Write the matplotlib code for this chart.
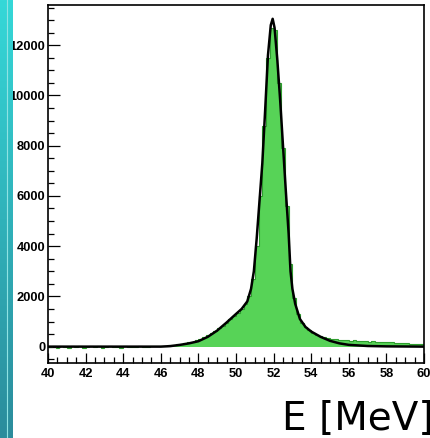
import numpy as np
import matplotlib.pyplot as plt
from matplotlib.ticker import MultipleLocator
from matplotlib.colors import LinearSegmentedColormap

# histogram: 0.2 MeV bins from 40 to 60
bin_edges = np.round(np.arange(40.0, 60.01, 0.2), 2)
counts = [
    -30, 10, -50, 20, 0, -40, 30, -20, 10, -60,
    0, 20, -30, 10, -50, 0, 30, -20, 0, -40,
    20, -10, 0, -30, 10, 0, -20, 30, 10, 40,
    30, 40, 50, 60, 90, 110, 140, 170, 200, 250,
    310, 370, 450, 540, 640, 730, 840, 960, 1080, 1200,
    1330, 1480, 1680, 2000, 2700, 4000, 6000, 8800, 11500, 12700,
    12600, 10500, 7900, 5600, 3300, 1950, 1300, 950, 800, 680,
    560, 480, 420, 370, 340, 310, 290, 280, 260, 250,
    240, 250, 225, 230, 205, 200, 210, 185, 180, 175,
    165, 175, 150, 140, 145, 125, 120, 115, 105, 95,
]

# fit curve
fit_e = [40.0, 44.0, 46.0, 46.5, 47.0, 47.5, 48.0, 48.5, 49.0, 49.5,
         50.0, 50.3, 50.6, 50.8, 50.95, 51.1, 51.25, 51.4, 51.55, 51.7,
         51.85, 51.95, 52.05, 52.2, 52.35, 52.5, 52.65, 52.8, 52.9, 53.0,
         53.15, 53.4, 53.7, 54.0, 54.5, 55.0, 55.5, 56.0, 57.0, 58.0, 60.0]
fit_v = [0, 0, 0, 20, 68, 130, 215, 390, 640, 960,
         1300, 1500, 1800, 2300, 3000, 4300, 5800, 7300, 9400, 11600,
         12800, 13050, 12700, 11400, 9800, 8000, 6200, 4500, 3000, 2300,
         1700, 1100, 780, 600, 390, 230, 130, 70, 25, 10, 0]

fig = plt.figure(figsize=(4.30, 4.38), dpi=100)
ax = fig.add_axes([48/430, 75.3/438, 376/430, 357.7/438])

ax.stairs(counts, bin_edges, fill=True, color='#57d357', zorder=1)
ax.stairs(counts, bin_edges, color='#2e9e2e', lw=0.8, zorder=2)
ax.plot(fit_e, fit_v, color='black', lw=1.8, zorder=3)

ax.set_xlim(40, 60)
ax.set_ylim(-640, 13600)
ax.xaxis.set_major_locator(MultipleLocator(2))
ax.xaxis.set_minor_locator(MultipleLocator(0.5))
ax.yaxis.set_major_locator(MultipleLocator(2000))
ax.yaxis.set_minor_locator(MultipleLocator(500))
ax.tick_params(which='both', direction='in', top=False, right=False, width=0.9)
ax.tick_params(axis='y', which='major', length=8.5, pad=2)
ax.tick_params(axis='y', which='minor', length=4.3)
ax.tick_params(axis='x', which='major', length=7.5, pad=3.5)
ax.tick_params(axis='x', which='minor', length=4)
for lab in ax.get_xticklabels() + ax.get_yticklabels():
    lab.set_fontfamily('Liberation Sans')
    lab.set_fontweight('bold')
    lab.set_fontsize(9.3)
for s in ax.spines.values():
    s.set_linewidth(1.2)

fig.text(282/430, 8/438, 'E [MeV]', fontsize=28, family='DejaVu Sans',
         ha='left', va='baseline')

# teal strip at the left edge
bar = fig.add_axes([0, 0, 13/430, 1])
grad = np.linspace(0, 1, 256)[:, None]
cmap = LinearSegmentedColormap.from_list('teal', ['#35d8d8', '#2b8c9c'])
bar.imshow(grad, aspect='auto', cmap=cmap, extent=[0, 1, 0, 1], origin='upper')
bar.axvline(0.52, color='#8fe3e3', lw=0.8)
bar.set_axis_off()

fig.savefig('out.png', dpi=100)
